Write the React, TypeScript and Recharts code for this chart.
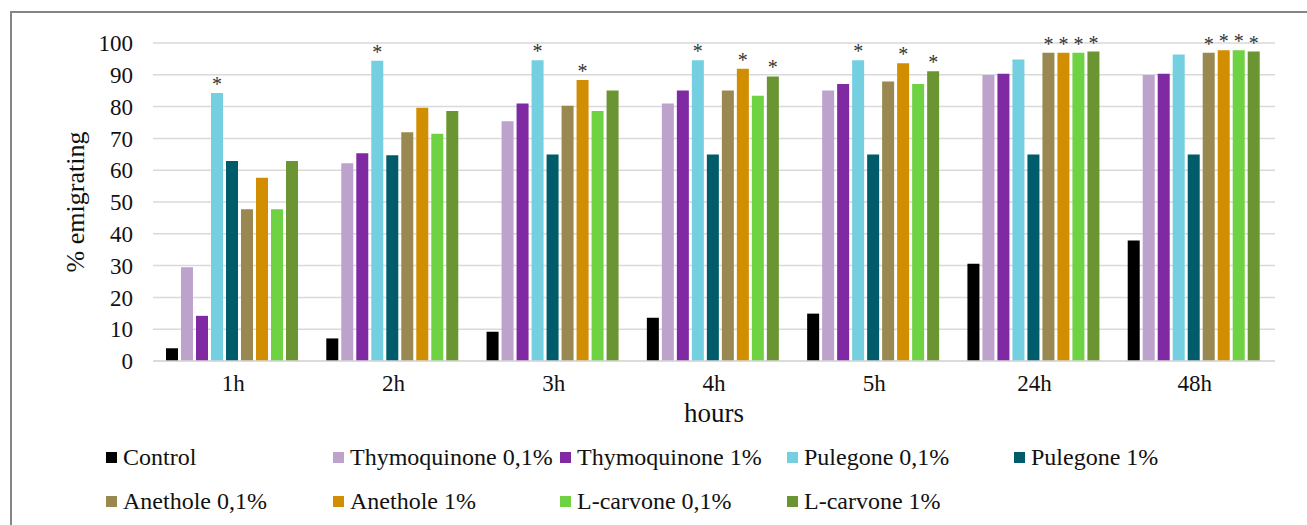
import React from 'react';
import { BarChart, Bar, XAxis, YAxis, CartesianGrid, Legend, LabelList, Label } from 'recharts';

const hours = ['1h', '2h', '3h', '4h', '5h', '24h', '48h'];

const control = [4.0, 7.1, 9.2, 13.6, 14.9, 30.6, 37.9];
const thymo01 = [29.5, 62.2, 75.4, 81.0, 85.1, 89.9, 89.9];
const thymo1 = [14.2, 65.3, 81.0, 85.1, 87.1, 90.3, 90.3];
const pule01 = [84.3, 94.4, 94.6, 94.6, 94.6, 94.8, 96.4];
const pule1 = [62.9, 64.7, 64.9, 64.9, 64.9, 64.9, 64.9];
const anet01 = [47.7, 71.9, 80.3, 85.1, 87.9, 96.9, 96.9];
const anet1 = [57.6, 79.6, 88.4, 91.9, 93.6, 96.9, 97.7];
const lcarv01 = [47.7, 71.5, 78.6, 83.4, 87.1, 96.9, 97.7];
const lcarv1 = [62.9, 78.6, 85.1, 89.5, 91.1, 97.3, 97.3];

// 1 = marked with an asterisk
const noSig = [0, 0, 0, 0, 0, 0, 0];
const pule01Sig = [1, 1, 1, 1, 1, 0, 0];
const anet01Sig = [0, 0, 0, 0, 0, 1, 1];
const anet1Sig = [0, 0, 1, 1, 1, 1, 1];
const lcarv01Sig = [0, 0, 0, 0, 0, 1, 1];
const lcarv1Sig = [0, 0, 0, 1, 1, 1, 1];

const seriesNames = [
  'Control',
  'Thymoquinone 0,1%',
  'Thymoquinone 1%',
  'Pulegone 0,1%',
  'Pulegone 1%',
  'Anethole 0,1%',
  'Anethole 1%',
  'L-carvone 0,1%',
  'L-carvone 1%',
];
const seriesValues = [control, thymo01, thymo1, pule01, pule1, anet01, anet1, lcarv01, lcarv1];
const seriesSig = [noSig, noSig, noSig, pule01Sig, noSig, anet01Sig, anet1Sig, lcarv01Sig, lcarv1Sig];

const yTicks = [0, 10, 20, 30, 40, 50, 60, 70, 80, 90, 100];

const colors = ['#000000', '#bda2cb', '#7f2aa3', '#74cfe0', '#005c6b', '#99884f', '#d08e00', '#6ed242', '#6a9532'];

const data = hours.map((h, i) => {
  const row: any = { hour: h };
  seriesValues.forEach((vals, s) => {
    row['s' + s] = vals[i];
    row['sig' + s] = seriesSig[s][i];
  });
  return row;
});

const FONT = 'Liberation Serif';

const Star = (props: any) => {
  const { x, y, width, value } = props;
  if (!value) return null;
  return (
    <text x={x + width / 2} y={y - 2} textAnchor="middle" fontSize={20} fontFamily={FONT} fill="#333">
      *
    </text>
  );
};

const LegendBox = (props: any) => {
  const items = [...(props.payload || [])].sort(
    (a: any, b: any) => seriesNames.indexOf(a.value) - seriesNames.indexOf(b.value)
  );
  return (
    <div style={{ display: 'grid', gridTemplateColumns: 'repeat(5, 227px)', paddingLeft: 106 }}>
      {items.map((it: any) => (
        <div key={it.value} style={{ display: 'flex', alignItems: 'center', height: 44, fontFamily: FONT, fontSize: 24, color: '#111', whiteSpace: 'nowrap' }}>
          <span style={{ width: 11, height: 11, background: it.color, display: 'inline-block', marginRight: 6 }} />
          {it.value}
        </div>
      ))}
    </div>
  );
};

export default function App() {
  return (
    <div style={{ position: 'absolute', left: 0, top: 0, width: 1307, height: 525, background: '#fff', overflow: 'hidden', fontFamily: FONT }}>
      <div style={{ position: 'absolute', left: 10, top: 11, width: 1310, height: 530, borderLeft: '2px solid #858585', borderTop: '2px solid #858585' }} />
      <BarChart
        width={1307}
        height={525}
        data={data}
        margin={{ top: 43, right: 32, left: 0, bottom: 122 }}
        barCategoryGap={13}
        barGap={3}
      >
        <CartesianGrid vertical={false} stroke="#d9d9d9" strokeWidth={1.5} />
        <XAxis
          dataKey="hour"
          height={42}
          tickLine={false}
          axisLine={{ stroke: '#d9d9d9', strokeWidth: 1.5 }}
          tickSize={0}
          tickMargin={14}
          tick={{ fontFamily: FONT, fontSize: 23, fill: '#111' }}
        >
          <Label value="hours" position="bottom" offset={0} style={{ fontFamily: FONT, fontSize: 27, fill: '#111' }} />
        </XAxis>
        <YAxis
          width={153}
          domain={[0, 100]}
          ticks={yTicks}
          interval={0}
          tickLine={false}
          axisLine={false}
          tickSize={0}
          tickMargin={20}
          tick={{ fontFamily: FONT, fontSize: 23, fill: '#111' }}
        >
          <Label value="% emigrating" angle={-90} position="center" dx={-2} style={{ fontFamily: FONT, fontSize: 26, fill: '#111', textAnchor: 'middle' }} />
        </YAxis>
        <Legend
          layout="horizontal"
          verticalAlign="middle"
          align="center"
          content={<LegendBox />}
          wrapperStyle={{ top: 435, left: 0, width: 1307 }}
        />
        {seriesNames.map((name, s) => (
          <Bar key={name} dataKey={'s' + s} name={name} fill={colors[s]} isAnimationActive={false}>
            <LabelList dataKey={'sig' + s} content={<Star />} />
          </Bar>
        ))}
      </BarChart>
    </div>
  );
}
